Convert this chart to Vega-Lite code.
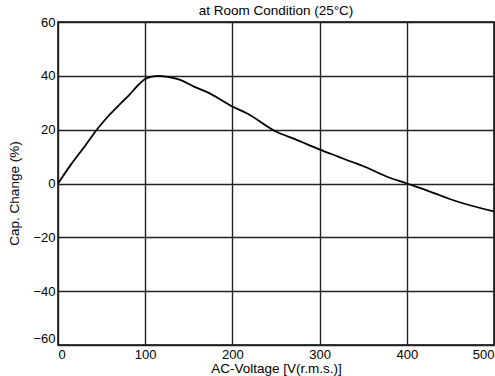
{
  "$schema": "https://vega.github.io/schema/vega-lite/v6.json",
  "width": 436,
  "height": 323,
  "autosize": "none",
  "padding": {"left": 58, "top": 22, "right": 1, "bottom": 31},
  "background": "white",
  "title": {"text": "at Room Condition (25°C)", "font": "Liberation Sans", "fontSize": 13.5, "fontWeight": "normal", "color": "black", "offset": -1, "anchor": "middle"},
  "config": {
    "view": {"stroke": "black", "strokeWidth": 1.5},
    "axis": {"labelFont": "Liberation Sans", "titleFont": "Liberation Sans", "labelFontSize": 13, "titleFontSize": 13.5, "labelColor": "black", "titleColor": "black", "titleFontWeight": "normal", "ticks": false, "domain": false, "gridColor": "#222", "gridWidth": 1.4, "gridOpacity": 1}
  },
  "data": {"values": [
    {"v": 0, "c": 0}, {"v": 15, "c": 7.1}, {"v": 32, "c": 14.4}, {"v": 44, "c": 19.8}, {"v": 57, "c": 24.8},
    {"v": 74, "c": 30.4}, {"v": 82, "c": 33}, {"v": 92, "c": 36.6}, {"v": 101, "c": 39}, {"v": 114, "c": 40},
    {"v": 126, "c": 39.6}, {"v": 141, "c": 38.4}, {"v": 156, "c": 36}, {"v": 174, "c": 33.5}, {"v": 200, "c": 28.6},
    {"v": 217, "c": 26}, {"v": 250, "c": 19.3}, {"v": 273, "c": 16.3}, {"v": 299, "c": 12.8}, {"v": 322, "c": 9.9},
    {"v": 338, "c": 7.9}, {"v": 349, "c": 6.6}, {"v": 376, "c": 2.7}, {"v": 400, "c": 0}, {"v": 425, "c": -2.8},
    {"v": 456, "c": -6.5}, {"v": 500, "c": -10.4}
  ]},
  "mark": {"type": "line", "color": "black", "strokeWidth": 1.8, "interpolate": "monotone", "clip": true},
  "encoding": {
    "x": {"field": "v", "type": "quantitative", "scale": {"domain": [0, 500], "nice": false},
      "axis": {"values": [0, 100, 200, 300, 400, 500], "title": "AC-Voltage [V(r.m.s.)]", "labelFlush": true, "labelPadding": 3, "titleY": 16, "titleBaseline": "top", "titleX": 218}},
    "y": {"field": "c", "type": "quantitative", "scale": {"domain": [-60, 60], "nice": false},
      "axis": {"values": [-60, -40, -20, 0, 20, 40, 60], "title": "Cap. Change (%)", "labelPadding": 3, "labelBaseline": {"expr": "datum.value == -60 ? 'bottom' : 'middle'"}, "titleX": -44, "titleY": 171, "titleAngle": -90, "titleBaseline": "middle", "titleAlign": "center", "titleFontSize": 13.5}}
  }
}
